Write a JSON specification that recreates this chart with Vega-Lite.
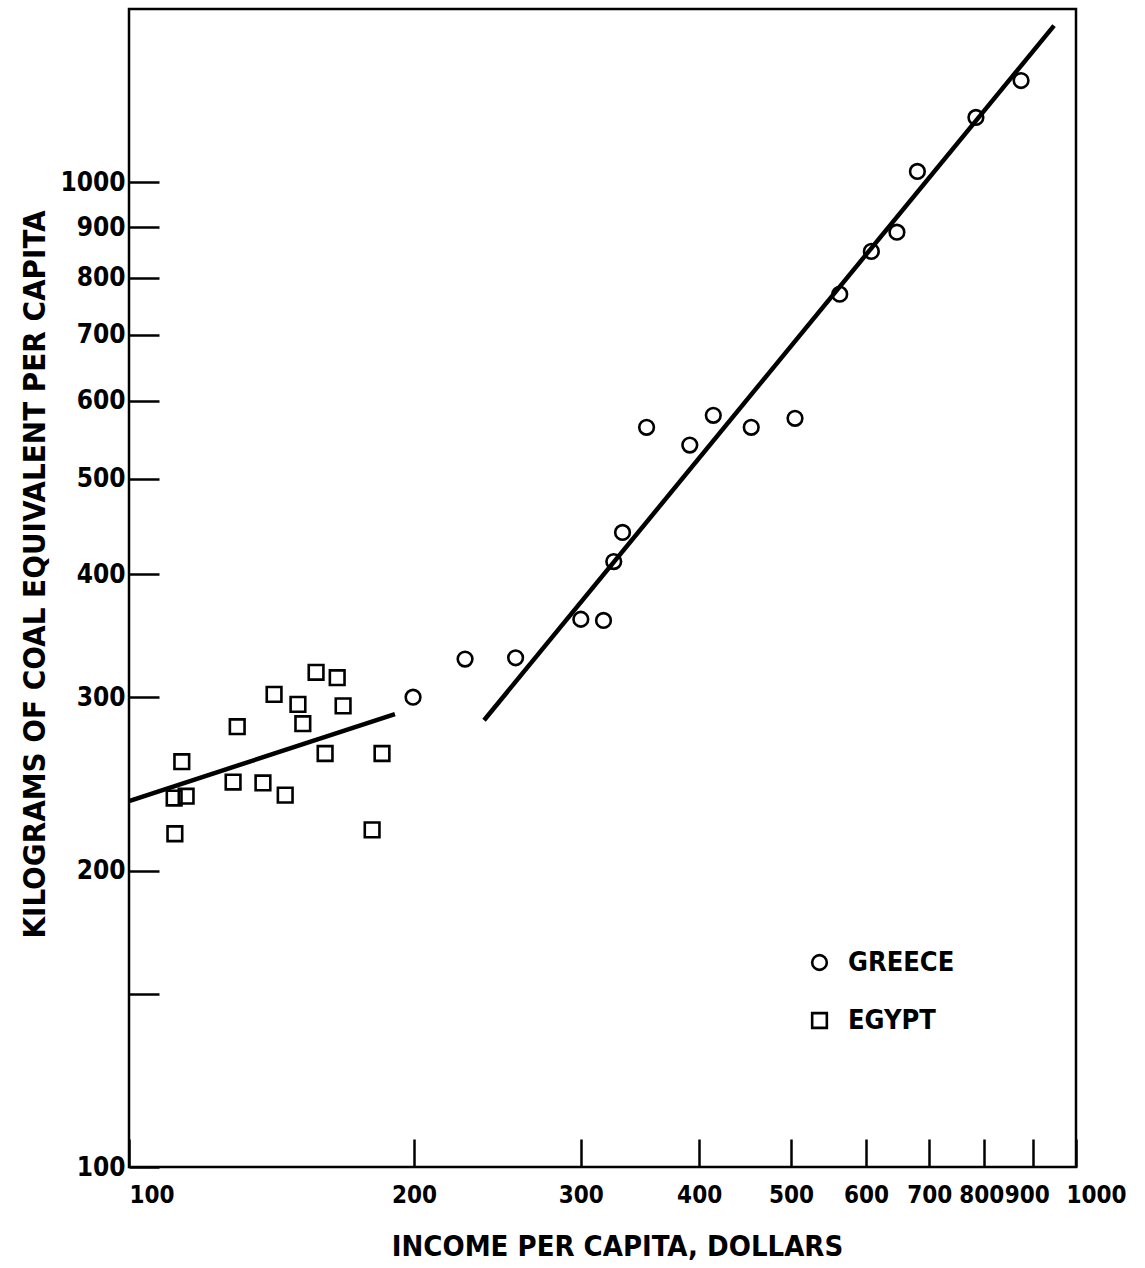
{
  "$schema": "https://vega.github.io/schema/vega-lite/v6.json",
  "width": 947,
  "height": 1158,
  "autosize": {"type": "none"},
  "padding": {"left": 129, "top": 9, "right": 69, "bottom": 101},
  "background": "white",
  "config": {
    "font": "DejaVu Sans Condensed, Liberation Sans, sans-serif",
    "view": {"stroke": "black", "strokeWidth": 2.5}
  },
  "datasets": {
    "points": [
      {"country": "GREECE", "income": 199.5, "coal": 300},
      {"country": "GREECE", "income": 226.4, "coal": 328},
      {"country": "GREECE", "income": 256, "coal": 329},
      {"country": "GREECE", "income": 300, "coal": 360},
      {"country": "GREECE", "income": 317, "coal": 359},
      {"country": "GREECE", "income": 325, "coal": 412},
      {"country": "GREECE", "income": 332, "coal": 441},
      {"country": "GREECE", "income": 352, "coal": 564},
      {"country": "GREECE", "income": 391, "coal": 541},
      {"country": "GREECE", "income": 414, "coal": 580},
      {"country": "GREECE", "income": 454, "coal": 564},
      {"country": "GREECE", "income": 505, "coal": 576},
      {"country": "GREECE", "income": 563, "coal": 770},
      {"country": "GREECE", "income": 608, "coal": 851},
      {"country": "GREECE", "income": 647, "coal": 890},
      {"country": "GREECE", "income": 680, "coal": 1026},
      {"country": "GREECE", "income": 784, "coal": 1164},
      {"country": "GREECE", "income": 875, "coal": 1269},
      {"country": "EGYPT", "income": 157.6, "coal": 318},
      {"country": "EGYPT", "income": 165.9, "coal": 314},
      {"country": "EGYPT", "income": 142.3, "coal": 302},
      {"country": "EGYPT", "income": 150.8, "coal": 295},
      {"country": "EGYPT", "income": 168.3, "coal": 294},
      {"country": "EGYPT", "income": 152.6, "coal": 282},
      {"country": "EGYPT", "income": 130.1, "coal": 280},
      {"country": "EGYPT", "income": 113.7, "coal": 258},
      {"country": "EGYPT", "income": 161.1, "coal": 263},
      {"country": "EGYPT", "income": 185, "coal": 263},
      {"country": "EGYPT", "income": 128.8, "coal": 246},
      {"country": "EGYPT", "income": 138.5, "coal": 245.5},
      {"country": "EGYPT", "income": 146.2, "coal": 238.6},
      {"country": "EGYPT", "income": 111.6, "coal": 237},
      {"country": "EGYPT", "income": 114.9, "coal": 238},
      {"country": "EGYPT", "income": 111.8, "coal": 218},
      {"country": "EGYPT", "income": 180.6, "coal": 220}
    ],
    "lines": [
      {"country": "EGYPT", "income": 100, "coal": 235.3},
      {"country": "EGYPT", "income": 190.9, "coal": 288.4},
      {"country": "GREECE", "income": 237.1, "coal": 284.3},
      {"country": "GREECE", "income": 948, "coal": 1443}
    ]
  },
  "layer": [
    {
      "data": {"name": "lines"},
      "mark": {"type": "line", "stroke": "black", "strokeWidth": 4.5, "clip": true},
      "encoding": {
        "x": {"field": "income", "type": "quantitative", "scale": {"type": "log", "domain": [100, 1000], "nice": false}},
        "y": {"field": "coal", "type": "quantitative", "scale": {"type": "log", "domain": [100, 1500], "nice": false}},
        "detail": {"field": "country"}
      }
    },
    {
      "data": {"name": "points"},
      "mark": {"type": "point", "filled": false, "stroke": "black", "strokeWidth": 2.6, "size": 215, "opacity": 1},
      "encoding": {
        "x": {
          "field": "income", "type": "quantitative",
          "scale": {"type": "log", "domain": [100, 1000], "nice": false},
          "axis": {
            "values": [100, 200, 300, 400, 500, 600, 700, 800, 900, 1000],
            "format": "d",
            "domain": false,
            "grid": false,
            "tickSize": -28,
            "tickWidth": 2.5,
            "tickColor": "black",
            "labelFontSize": 24,
            "labelFontWeight": "bold",
            "labelColor": "black",
            "labelBaseline": "top",
            "labelPadding": 44,
            "labelAlign": {"expr": "datum.value == 100 ? 'left' : 'center'"},
            "labelOffset": {"expr": "datum.value == 800 ? -3 : datum.value == 900 ? -6 : datum.value == 1000 ? 20 : 0"},
            "labelFlush": false,
            "labelOverlap": false,
            "title": "INCOME PER CAPITA, DOLLARS",
            "titleFontSize": 29,
            "titleFontWeight": "bold",
            "titleColor": "black",
            "titleX": 488,
            "titleY": 88,
            "titleAlign": "center",
            "titleBaseline": "alphabetic"
          }
        },
        "y": {
          "field": "coal", "type": "quantitative",
          "scale": {"type": "log", "domain": [100, 1500], "nice": false},
          "axis": {
            "values": [100, 150, 200, 300, 400, 500, 600, 700, 800, 900, 1000],
            "labelExpr": "datum.value == 150 ? '' : format(datum.value, 'd')",
            "domain": false,
            "grid": false,
            "tickSize": -30,
            "tickWidth": 2.5,
            "tickColor": "black",
            "labelFontSize": 26,
            "labelFontWeight": "bold",
            "labelColor": "black",
            "labelPadding": 34,
            "labelOverlap": false,
            "labelFlush": false,
            "title": "KILOGRAMS OF COAL EQUIVALENT PER CAPITA",
            "titleFontSize": 31,
            "titleFontWeight": "bold",
            "titleColor": "black",
            "titleAngle": -90,
            "titleX": -85,
            "titleY": 565,
            "titleBaseline": "alphabetic",
            "titleAlign": "center"
          }
        },
        "shape": {
          "field": "country", "type": "nominal",
          "scale": {"domain": ["GREECE", "EGYPT"], "range": ["circle", "square"]},
          "legend": {
            "title": null,
            "orient": "none",
            "legendX": 677,
            "legendY": 940,
            "padding": 0,
            "symbolSize": 215,
            "symbolStrokeWidth": 2.6,
            "symbolStrokeColor": "black",
            "symbolFillColor": "transparent",
            "labelFontSize": 27,
            "labelFontWeight": "bold",
            "labelColor": "black",
            "labelOffset": 15,
            "rowPadding": 30,
            "labelLimit": 300
          }
        }
      }
    }
  ]
}
